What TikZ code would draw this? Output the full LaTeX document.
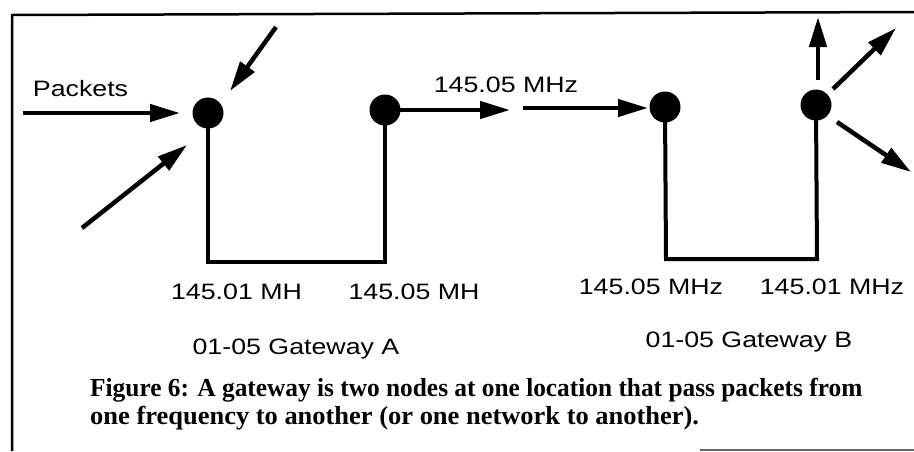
\documentclass[tikz,border=0pt]{standalone}
\usepackage{fontspec}
\usetikzlibrary{arrows.meta}
\newfontfamily\labfont[FakeStretch=1.2]{Liberation Sans}
\newfontfamily\capfont{Liberation Serif}
\begin{document}
\begin{tikzpicture}[x=1pt,y=-1pt,
  dot/.style={circle,fill=black,inner sep=0pt,minimum size=31pt},
  wire/.style={line width=4pt},
  arr/.style={line width=4.5pt,-{Triangle[length=30pt,width=17pt]}},
  lab/.style={font=\labfont\fontsize{22.3}{26}\selectfont,inner sep=0pt,anchor=base},
  captext/.style={font=\capfont\bfseries\fontsize{26}{28}\selectfont,inner sep=0pt,anchor=base west},
  framestyle/.style={line width=2.5pt}]
\useasboundingbox (0,0) rectangle (914,451);
% frame
\coordinate (f1) at (12,451);
\coordinate (f2) at (12,15);
\coordinate (f3) at (914,12);
\draw[framestyle] (f1) -- (f2) -- (f3);
\coordinate (f4) at (700,449.5);
\coordinate (f5) at (914,449.5);
\draw[line width=2pt,black!60] (f4) -- (f5);
% dots
\node[dot] (a1) at (208,113) {};
\node[dot] (a2) at (385,110) {};
\node[dot] (b1) at (665,107) {};
\node[dot] (b2) at (816,105) {};
% gateway wires
\coordinate (a1b) at (208,262);
\coordinate (a2b) at (385,262);
\coordinate (b1b) at (666,259);
\coordinate (b2b) at (817,259);
\draw[wire] (a1.center) -- (a1b) -- (a2b) -- (a2.center);
\draw[wire] (b1.center) -- (b1b) -- (b2b) -- (b2.center);
% incoming arrows to A1
\coordinate (p0) at (23,113);
\coordinate (p1) at (180,113);
\draw[arr] (p0) -- (p1);
\coordinate (t0) at (276,27);
\coordinate (t1) at (230,91);
\draw[arr] (t0) -- (t1);
\coordinate (l0) at (82,228);
\coordinate (l1) at (187,145);
\draw[arr] (l0) -- (l1);
% A2 out, B1 in
\coordinate (m1) at (510,110);
\draw[arr] (a2.center) -- (m1);
\coordinate (n0) at (523,108);
\coordinate (n1) at (648,108);
\draw[arr] (n0) -- (n1);
% B2 out
\coordinate (u0) at (818,80);
\coordinate (u1) at (818,17);
\draw[arr] (u0) -- (u1);
\coordinate (r0) at (833,89);
\coordinate (r1) at (896,28);
\draw[arr] (r0) -- (r1);
\coordinate (d0) at (837,122);
\coordinate (d1) at (911,172);
\draw[arr] (d0) -- (d1);
% labels
\node[lab] (packets) at (80.5,96.5) {Packets};
\node[lab] (freqtop) at (506,92) {145.05 MHz};
\node[lab] (fa1) at (236.5,299) {145.01 MH};
\node[lab] (fa2) at (414,299) {145.05 MH};
\node[lab] (fb1) at (651,294) {145.05 MHz};
\node[lab] (fb2) at (832,294) {145.01 MHz};
\node[lab] (gwa) at (296,354) {01-05 Gateway A};
\node[lab] (gwb) at (749,347) {01-05 Gateway B};
% caption
\node[captext] (cap1) at (90,396) {\scalebox{0.975}[1]{Figure 6: A gateway is two nodes at one location that pass packets from}};
\node[captext] (cap2) at (90,424) {\scalebox{1.018}[1]{one frequency to another (or one network to another).}};
\end{tikzpicture}
\end{document}
